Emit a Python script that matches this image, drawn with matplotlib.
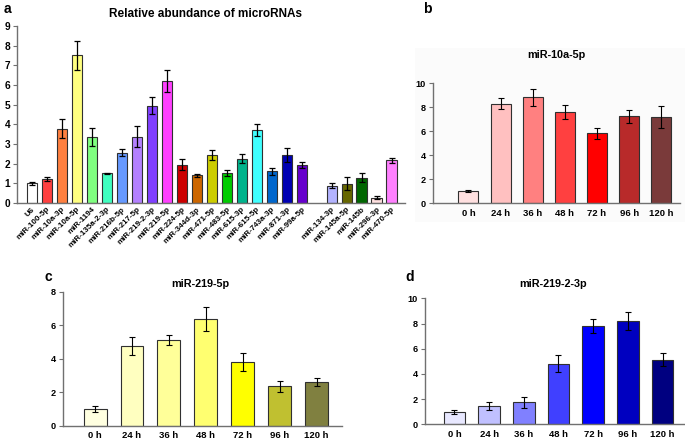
import numpy as np
import matplotlib
matplotlib.use("Agg")
import matplotlib.pyplot as plt
from matplotlib.patches import Rectangle

plt.rcParams['font.family'] = ['Liberation Sans', 'DejaVu Sans']
plt.rcParams['font.weight'] = 'bold'

# panel a: relative abundance of microRNAs
mirnas = ["U6", "miR-100-5p", "miR-10a-3p", "miR-10a-5p", "miR-1194", "miR-135a-2-3p",
          "miR-216b-5p", "miR-217-5p", "miR-219-2-3p", "miR-219-5p", "miR-224-5p",
          "miR-344d-3p", "miR-471-5p", "miR-483-5p", "miR-615-3p", "miR-615-5p",
          "miR-743a-3p", "miR-871-3p", "miR-99a-5p",
          "miR-134-3p", "miR-145a-5p", "miR-145b", "miR-296-3p", "miR-470-5p"]
abund = [1.0, 1.2, 3.78, 7.5, 3.35, 1.5, 2.55, 3.38, 4.95, 6.2, 1.95, 1.4, 2.42, 1.53,
         2.26, 3.7, 1.61, 2.43, 1.94, 0.88, 0.98, 1.29, 0.27, 2.17]
abund_err = [0.07, 0.1, 0.5, 0.75, 0.45, 0.04, 0.18, 0.55, 0.45, 0.55, 0.27, 0.08, 0.25,
             0.15, 0.25, 0.31, 0.18, 0.37, 0.15, 0.14, 0.33, 0.24, 0.07, 0.13]
abund_colors = ["#ffffff", "#ff4040", "#ff8040", "#ffff80", "#80ff80", "#40ffc0",
                "#6699ff", "#b380ff", "#8040ff", "#ff40ff", "#cc0000", "#cc6600",
                "#cccc00", "#00cc00", "#00b38c", "#40ffff", "#0066cc", "#0000b3",
                "#6600cc", "#b3b3ff", "#666600", "#006600", "#ffe0e0", "#ff80ff"]

# time courses
hours = ["0 h", "24 h", "36 h", "48 h", "72 h", "96 h", "120 h"]
mir10a5p = [1.0, 8.27, 8.8, 7.57, 5.81, 7.23, 7.18]
mir10a5p_err = [0.1, 0.45, 0.7, 0.6, 0.47, 0.53, 0.9]
mir2195p = [1.0, 4.78, 5.11, 6.37, 3.82, 2.35, 2.61]
mir2195p_err = [0.2, 0.53, 0.3, 0.7, 0.54, 0.32, 0.22]
mir21923p = [0.98, 1.43, 1.75, 4.81, 7.8, 8.2, 5.13]
mir21923p_err = [0.16, 0.32, 0.45, 0.69, 0.53, 0.74, 0.53]

reds = ["#ffe0e0", "#ffc0c0", "#ff8080", "#ff4040", "#ff0000", "#b82a2a", "#7a3a3a"]
yellows = ["#ffffe0", "#ffffc0", "#ffff99", "#ffff70", "#ffff00", "#c0c030", "#808040"]
blues = ["#e8e8ff", "#c0c0ff", "#8080ff", "#4040ff", "#0000ff", "#0000c0", "#000080"]

W, H = 685, 448
fig = plt.figure(figsize=(W / 100, H / 100), dpi=100)

# very faint grey chart area behind panel b
fig.patches.append(Rectangle((415 / W, 1 - 222 / H), 270 / W, 174 / H,
                             transform=fig.transFigure, facecolor="#fbfbfb",
                             edgecolor="none", zorder=-5))


def px_axes(left, right, top, bottom):
    ax = fig.add_axes([left / W, 1 - bottom / H, (right - left) / W, (bottom - top) / H])
    ax.set_zorder(2)
    return ax


def style(ax, ytick_size):
    for s in ["top", "right"]:
        ax.spines[s].set_visible(False)
    for s in ["left", "bottom"]:
        ax.spines[s].set_color("#707070")
        ax.spines[s].set_linewidth(1.0)
    ax.patch.set_visible(False)
    ax.tick_params(axis="x", length=0, pad=4)
    ax.tick_params(axis="y", length=3, width=0.8, color="#707070", labelsize=ytick_size, pad=2)
    for lab in ax.get_yticklabels():
        lab.set_fontweight("bold")


def time_panel(ax, vals, errs, colors, ymax):
    x = np.arange(len(vals))
    ax.bar(x, vals, width=0.62, color=colors, edgecolor="#303030", linewidth=0.8,
           yerr=errs, error_kw=dict(ecolor="black", elinewidth=0.8, capsize=2.5, capthick=0.8))
    ax.set_ylim(0, ymax)
    ax.set_yticks(np.arange(0, ymax + 1, 2))
    ax.set_xticks(x)
    ax.set_xticklabels(hours, fontsize=6.8, fontweight="bold")
    style(ax, 6.6)


# panel a
ax_a = px_axes(17, 405, 26, 203)
pos = list(range(19)) + list(range(20, 25))
ax_a.bar(pos, abund, width=0.67, color=abund_colors, edgecolor="#303030", linewidth=0.8,
         yerr=abund_err, error_kw=dict(ecolor="black", elinewidth=0.9, capsize=2.5, capthick=0.9))
ax_a.set_xlim(-0.98, 24.9)
ax_a.set_ylim(0, 9)
ax_a.set_yticks(range(10))
ax_a.set_xticks(pos)
ax_a.set_xticklabels(mirnas, rotation=45, ha="right", rotation_mode="anchor",
                     fontsize=5.8, fontweight="bold")
style(ax_a, 7.3)
ax_a.tick_params(axis="x", pad=2)
fig.text(205 / W, 1 - 14 / H, "Relative abundance of microRNAs", ha="center", va="center",
         fontsize=8.5, fontweight="bold")
fig.text(4 / W, 1 - 9 / H, "a", ha="left", va="center", fontsize=10, fontweight="bold")

# panel b
ax_b = px_axes(433, 680, 83, 203)
time_panel(ax_b, mir10a5p, mir10a5p_err, reds, 10)
ax_b.set_xlim(-1.1, 6.58)
fig.text(556 / W, 1 - 55 / H, "miR-10a-5p", ha="center", va="center", fontsize=7.8,
         fontweight="bold")
fig.text(427 / W, 1 - 9 / H, "b", ha="center", va="center", fontsize=10, fontweight="bold")

# panel c
ax_c = px_axes(63, 342, 291.7, 425.7)
time_panel(ax_c, mir2195p, mir2195p_err, yellows, 8)
ax_c.set_xlim(-0.87, 6.69)
fig.text(200 / W, 1 - 284 / H, "miR-219-5p", ha="center", va="center", fontsize=7.8,
         fontweight="bold")
fig.text(48 / W, 1 - 277 / H, "c", ha="center", va="center", fontsize=10, fontweight="bold")

# panel d
ax_d = px_axes(425, 684, 298.3, 424.3)
time_panel(ax_d, mir21923p, mir21923p_err, blues, 10)
ax_d.set_xlim(-0.85, 6.62)
fig.text(553 / W, 1 - 284 / H, "miR-219-2-3p", ha="center", va="center", fontsize=7.8,
         fontweight="bold")
fig.text(410 / W, 1 - 277 / H, "d", ha="center", va="center", fontsize=10, fontweight="bold")

fig.savefig("out.png", dpi=100)
